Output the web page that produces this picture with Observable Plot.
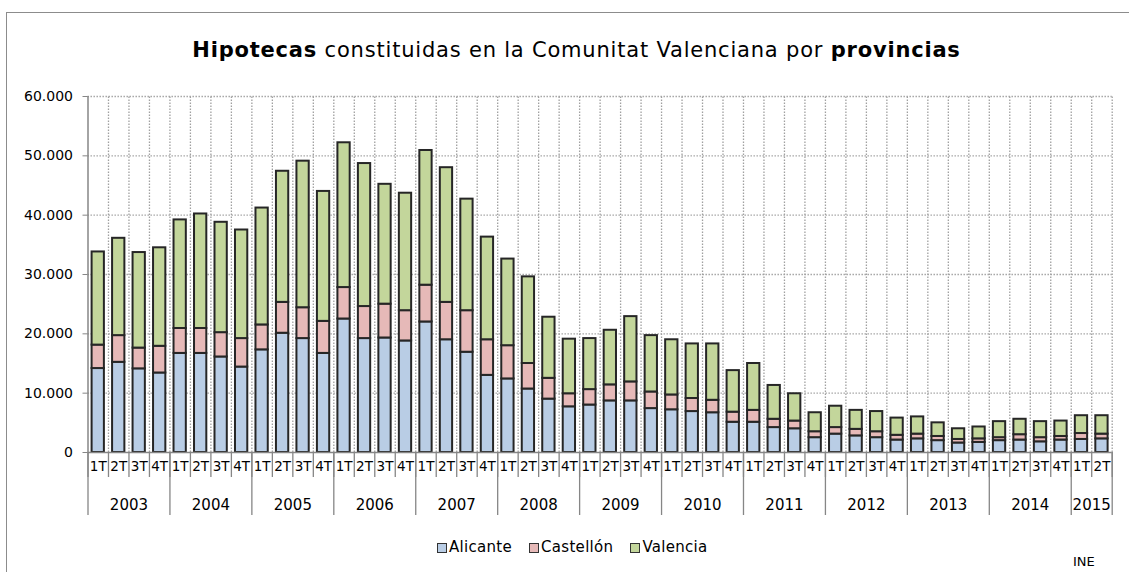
<!DOCTYPE html>
<html>
<head>
<meta charset="utf-8">
<script src="https://cdn.jsdelivr.net/npm/d3@7"></script>
<script src="https://cdn.jsdelivr.net/npm/@observablehq/plot@0.6"></script>
<style>
  body { margin: 0; background: #fff; font-family: "DejaVu Sans", sans-serif; }
  #wrap { position: relative; width: 1129px; height: 572px; overflow: hidden; background: #fff; }
  #frame { position: absolute; left: 6px; top: 12px; width: 1300px; height: 800px;
           border-left: 1.5px solid #8c8c8c; border-top: 1.5px solid #8c8c8c; }
  #title { position: absolute; top: 37px; left: 0; width: 1153px; text-align: center;
           font-size: 21px; line-height: 26px; letter-spacing: 0.8px; color: #000; }
  #chart { position: absolute; top: 80px; left: 0; }
  #legend { position: absolute; top: 538px; left: 437px; display: flex; gap: 17px;
            font-size: 15px; line-height: 19px; letter-spacing: 0.3px; color: #000; }
  #legend span.item { display: flex; align-items: center; }
  #legend i { display: inline-block; width: 8px; height: 8px; border: 1.5px solid #333; margin-right: 2px; }
  #source { position: absolute; top: 554px; left: 1073px; font-size: 13px; color: #000; }
</style>
</head>
<body>
<div id="wrap">
  <div id="frame"></div>
  <div id="title"><b>Hipotecas</b> constituidas en la Comunitat Valenciana por <b>provincias</b></div>
  <div id="chart"></div>
  <div id="legend"></div>
  <div id="source">INE</div>
</div>
<script>
const years = ["2003","2004","2005","2006","2007","2008","2009","2010","2011","2012","2013","2014","2015"];
const quarterNames = ["1T","2T","3T","4T"];
const provinces = ["Alicante","Castellón","Valencia"];
const colors = ["#b9cde5","#e6b9b8","#c3d69b"];

const alicante = [14150,15200,14100,13400,16700,16700,16100,14400,17300,20100,19200,16700,22500,19200,19300,18800,22000,19000,16900,13000,12400,10700,9000,7700,8000,8700,8700,7400,7200,6900,6700,5100,5100,4200,4000,2500,3100,2800,2500,2100,2300,2000,1600,1700,2000,2100,1800,2100,2200,2300];
const castellon = [3950,4500,3500,4500,4200,4200,4100,4800,4200,5200,5200,5400,5300,5400,5700,5100,6200,6300,7000,6000,5600,4300,3500,2200,2600,2700,3200,2800,2500,2200,2100,1700,2000,1400,1300,1000,1100,1100,1000,800,800,700,600,600,500,900,700,600,1000,800];
const valencia = [15700,16400,16100,16600,18300,19300,18600,18300,19700,22100,24700,21900,24400,24100,20200,19800,22700,22700,18800,17300,14600,14600,10300,9200,8600,9200,11000,9500,9300,9200,9500,7000,7900,5700,4600,3200,3600,3200,3400,2900,2900,2300,1800,2000,2700,2600,2700,2600,3000,3100];
const yTicks = [0,10000,20000,30000,40000,50000,60000];

const series = [alicante, castellon, valencia];
const periods = alicante.map((_, i) => ({i, year: years[Math.floor(i / 4)], q: quarterNames[i % 4]}));
const n = periods.length;
const rows = [];
periods.forEach((p, i) => {
  let base = 0;
  series.forEach((s, k) => {
    rows.push({i, prov: provinces[k], y1: base, y2: base + s[i]});
    base += s[i];
  });
});
const yearGroups = years.map(y => {
  const idx = periods.filter(p => p.year === y).map(p => p.i);
  return {year: y, start: idx[0], end: idx[idx.length - 1] + 1};
});
const yearBounds = [0, ...yearGroups.map(g => g.end)];

const fmt = d3.formatLocale({decimal: ",", thousands: ".", grouping: [3], currency: ["", "€"]}).format(",d");
const axisColor = "#868686";
const gridColor = "#a0a0a0";

const plot = Plot.plot({
  width: 1129, height: 442,
  marginTop: 16, marginBottom: 70, marginLeft: 87.5, marginRight: 17.3,
  x: {domain: [0, n]},
  y: {domain: [0, 60000]},
  color: {domain: provinces, range: colors},
  style: {fontFamily: "DejaVu Sans, sans-serif", fontSize: "13px", color: "#000", background: "transparent"},
  marks: [
    Plot.ruleY(yTicks.slice(1), {x1: 0, x2: n, stroke: gridColor, strokeWidth: 1.3, strokeDasharray: "1.4,1.6"}),
    Plot.ruleX(d3.range(1, n + 1), {y1: 0, y2: 60000, stroke: gridColor, strokeWidth: 1.3, strokeDasharray: "1.4,1.6"}),
    Plot.rect(rows, {x1: d => d.i + 0.2, x2: d => d.i + 0.8, y1: "y1", y2: "y2", fill: "prov", stroke: "#262626", strokeWidth: 2}),
    Plot.ruleX([0], {y1: 0, y2: 60000, stroke: axisColor, strokeWidth: 1.5}),
    Plot.ruleY([0], {x1: 0, x2: n, stroke: axisColor, strokeWidth: 1.5}),
    Plot.axisY({ticks: yTicks, tickFormat: fmt, tickSize: 5, tickPadding: 10, stroke: axisColor, fontSize: 14, label: null}),
    Plot.axisX({ticks: d3.range(0, n + 1), tickSize: 25, tickFormat: () => "", stroke: axisColor, strokeWidth: 1.3, label: null}),
    Plot.axisX({ticks: yearBounds, tickSize: 63, tickFormat: () => "", stroke: axisColor, strokeWidth: 1.3, label: null}),
    Plot.text(periods, {x: d => d.i + 0.5, y: 0, text: "q", dy: 14, fontSize: 13.5, fill: "#000"}),
    Plot.text(yearGroups, {x: d => (d.start + d.end) / 2, y: 0, text: "year", dy: 53, fontSize: 15, fill: "#000"})
  ]
});
document.getElementById("chart").appendChild(plot);

const legend = document.getElementById("legend");
provinces.forEach((p, k) => {
  const item = document.createElement("span");
  item.className = "item";
  const sw = document.createElement("i");
  sw.style.background = colors[k];
  item.appendChild(sw);
  item.appendChild(document.createTextNode(p));
  legend.appendChild(item);
});
</script>
</body>
</html>
